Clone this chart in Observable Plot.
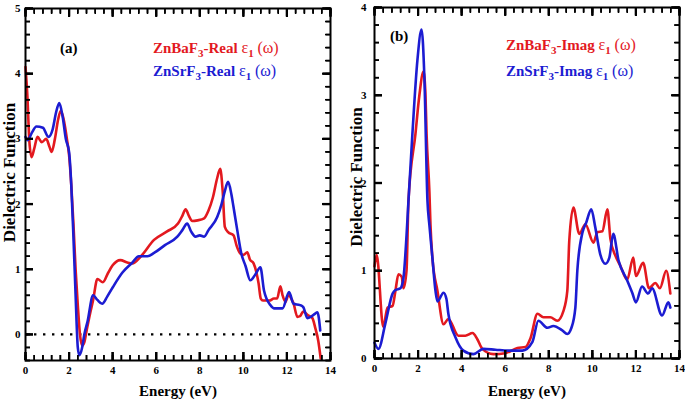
<!DOCTYPE html>
<html><head><meta charset="utf-8">
<script src="https://cdn.jsdelivr.net/npm/d3@7"></script>
<script src="https://cdn.jsdelivr.net/npm/@observablehq/plot@0.6"></script>
<style>
body{margin:0;background:#fff;font-family:"Liberation Serif","Times New Roman",serif;}
#wrap{position:relative;width:685px;height:400px;}
.lab{position:absolute;white-space:nowrap;font-weight:bold;font-size:15px;line-height:15px;}
.lab sub{font-size:11px;vertical-align:-4px;line-height:0;}
.g{font-weight:normal;font-size:16px;}
</style></head><body><div id="wrap"></div>
<script>
// ---- Panel (a): real part ----
const realBaE = [0,0.08,0.18,0.28,0.4,0.55,0.75,0.95,1.1,1.2,1.35,1.5,1.62,1.75,1.9,2.0,2.1,2.2,2.3,2.4,2.5,2.6,2.7,2.8,2.95,3.1,3.3,3.55,3.8,4.0,4.35,4.7,4.9,5.3,5.9,6.5,7.0,7.2,7.35,7.5,7.65,7.9,8.2,8.4,8.6,8.8,8.94,9.05,9.15,9.3,9.55,9.7,9.86,10.0,10.18,10.3,10.47,10.6,10.7,10.8,10.9,11.2,11.4,11.55,11.7,11.8,11.93,12.07,12.2,12.3,12.48,12.6,12.75,12.94,13.17,13.3,13.44,13.55];
const realBaV = [4.1,3.7,2.95,2.72,2.85,3.03,2.95,3.0,2.88,2.8,3.0,3.3,3.43,3.3,3.0,2.75,2.3,1.7,1.0,0.45,0.0,-0.17,-0.12,0.05,0.3,0.52,0.85,0.8,0.95,1.06,1.14,1.1,1.09,1.2,1.45,1.58,1.7,1.82,1.92,1.82,1.74,1.75,1.78,1.9,2.1,2.4,2.54,2.2,1.65,1.57,1.52,1.35,1.24,1.22,1.26,1.15,1.09,0.95,0.78,0.55,0.52,0.52,0.55,0.55,0.74,0.6,0.5,0.6,0.55,0.48,0.27,0.28,0.35,0.3,0.25,0.1,-0.1,-0.37];
const realSrE = [0,0.1,0.3,0.5,0.8,1.05,1.25,1.4,1.55,1.7,1.85,2.0,2.1,2.2,2.3,2.4,2.47,2.6,2.7,2.85,3.1,3.3,3.52,3.75,4.0,4.45,4.9,5.2,5.6,5.9,6.4,6.97,7.2,7.42,7.6,7.8,8.0,8.2,8.4,8.8,9.0,9.15,9.3,9.45,9.55,9.72,9.9,10.1,10.32,10.55,10.78,10.95,11.24,11.4,11.8,12.1,12.3,12.6,12.75,12.94,13.1,13.3,13.4,13.53];
const realSrV = [3.03,2.98,3.1,3.19,3.17,3.03,3.15,3.4,3.55,3.35,3.0,2.8,2.3,1.5,0.6,-0.2,-0.32,-0.2,0.0,0.2,0.6,0.53,0.47,0.58,0.72,0.95,1.1,1.2,1.2,1.25,1.37,1.5,1.6,1.7,1.58,1.5,1.52,1.5,1.6,1.8,2.0,2.2,2.34,2.15,1.95,1.6,1.25,1.05,0.83,0.92,1.03,0.67,0.45,0.4,0.4,0.65,0.47,0.45,0.42,0.25,0.27,0.32,0.34,0.06];
// ---- Panel (b): imaginary part ----
const imagBaE = [0,0.1,0.4,0.6,0.83,0.96,1.1,1.25,1.33,1.47,1.56,1.88,2.06,2.25,2.34,2.39,2.52,2.57,2.66,2.89,3.17,3.39,3.85,4.17,4.5,4.72,4.95,5.46,6.0,6.56,6.93,7.16,7.48,7.75,8.07,8.39,8.67,8.85,8.94,9.13,9.4,9.68,10.05,10.23,10.46,10.69,10.83,11.06,11.28,11.6,11.88,12.0,12.33,12.6,12.89,13.1,13.39,13.58];
const imagBaV = [1.05,1.18,0.36,0.58,0.6,0.77,0.96,0.93,0.8,1.0,1.8,2.56,3.0,3.27,3.0,2.56,1.9,1.52,1.14,0.77,0.39,0.45,0.26,0.26,0.29,0.22,0.11,0.05,0.06,0.12,0.13,0.23,0.51,0.47,0.47,0.43,0.54,0.77,1.34,1.72,1.42,1.53,1.32,1.44,1.45,1.7,1.36,1.17,1.06,0.9,1.15,0.94,1.09,0.8,0.86,0.8,1.0,0.74];
const imagSrE = [0,0.18,0.5,0.83,0.96,1.19,1.33,1.47,1.56,1.74,1.97,2.16,2.29,2.43,2.52,2.66,2.8,2.89,3.17,3.3,3.39,3.72,4.08,4.54,5.0,5.55,6.15,6.79,7.25,7.52,7.94,8.21,8.62,8.85,9.04,9.22,9.31,9.54,9.72,9.95,10.13,10.36,10.6,10.78,10.96,11.2,11.6,11.83,12.0,12.28,12.56,12.74,13.2,13.49,13.58];
const imagSrV = [0.18,0.11,0.4,0.74,0.78,0.8,0.92,1.4,1.8,2.56,3.4,3.75,3.2,1.8,1.52,1.14,0.77,0.65,0.75,0.68,0.51,0.24,0.09,0.05,0.11,0.1,0.09,0.09,0.19,0.43,0.35,0.37,0.32,0.28,0.35,0.58,1.0,1.43,1.55,1.7,1.5,1.19,1.08,1.15,1.42,1.12,0.89,0.75,0.64,0.82,0.74,0.8,0.49,0.64,0.58];

const xMajor = [0,2,4,6,8,10,12,14];
const yMajorA = [0,1,2,3,4,5];
const yMajorB = [0,1,2,3,4];
const seriesNames = ["ZnBaF3","ZnSrF3"];
const RED = "#e3191f", BLUE = "#1c1cd2";
const FONT = "Liberation Serif";

const rows = (E, V) => E.map((e, i) => ({e, v: V[i]}));
const step = (a, b, s) => d3.range(Math.round((b - a) / s) + 1).map(i => +(a + i * s).toFixed(2));

function panel(o) {
  const xd = [0, 14];
  const xMinor = step(0, 14, 0.4);
  const yMinor = step(o.yd[0], o.yd[1], 0.2);
  const iw = o.w - o.ml - o.mr, ih = 400 - o.mt - o.mb;
  const fmt = d => String(d);
  const txt = {fontFamily: FONT, fontWeight: "bold", fill: "black"};
  const tickMarks = (len, sw, xs, ys) => [
    Plot.tickX(xs, {x: d => d, stroke: "black", strokeWidth: sw, insetTop: ih - len}),
    Plot.tickX(xs, {x: d => d, stroke: "black", strokeWidth: sw, insetBottom: ih - len}),
    Plot.tickY(ys, {y: d => d, stroke: "black", strokeWidth: sw, insetRight: iw - len}),
    Plot.tickY(ys, {y: d => d, stroke: "black", strokeWidth: sw, insetLeft: iw - len}),
    Plot.axisX(xs, {anchor: "bottom", tickSize: -len, stroke: "black", strokeWidth: sw, tickFormat: () => "", label: null}),
    Plot.axisX(xs, {anchor: "top", tickSize: -len, stroke: "black", strokeWidth: sw, tickFormat: () => "", label: null}),
    Plot.axisY(ys, {anchor: "left", tickSize: -len, stroke: "black", strokeWidth: sw, tickFormat: () => "", label: null}),
    Plot.axisY(ys, {anchor: "right", tickSize: -len, stroke: "black", strokeWidth: sw, tickFormat: () => "", label: null})
  ];
  return Plot.plot({
    width: o.w, height: 400,
    marginLeft: o.ml, marginRight: o.mr, marginTop: o.mt, marginBottom: o.mb,
    x: {domain: xd},
    y: {domain: o.yd},
    marks: [
      ...(o.zero ? [Plot.ruleY([0], {stroke: "black", strokeDasharray: "2.4,6.6", strokeWidth: 2.2})] : []),
      Plot.line(rows(o.ba[0], o.ba[1]), {x: "e", y: "v", stroke: RED, strokeWidth: 2.6, curve: "monotone-x"}),
      Plot.line(rows(o.sr[0], o.sr[1]), {x: "e", y: "v", stroke: BLUE, strokeWidth: 2.6, curve: "monotone-x"}),
      Plot.frame({strokeWidth: 2, stroke: "black"}),
      ...tickMarks(5, 1.6, xMinor, yMinor),
      ...tickMarks(8, 2.2, xMajor, o.yMajor),
      Plot.axisX(xMajor, {anchor: "bottom", tickSize: 0, tickPadding: 6, tickFormat: fmt, label: null, fontSize: 11, ...txt}),
      Plot.axisY(o.yMajor, {anchor: "left", tickSize: 0, tickPadding: o.ytp, tickFormat: fmt, label: null, fontSize: 11, ...txt}),
      Plot.text(["Energy (eV)"], {frameAnchor: "bottom", lineAnchor: "middle", textAnchor: "middle", dy: o.xdy, fontSize: 15, ...txt}),
      Plot.text(["Dielectric Function"], {frameAnchor: "left", lineAnchor: "middle", textAnchor: "middle", dx: o.ydx, dy: o.ydy, rotate: -90, fontSize: 17, ...txt})
    ]
  });
}

const wrap = document.getElementById("wrap");
const svgA = panel({w: 342, ml: 25, mr: 12, mt: 8, mb: 40, yd: [-0.4, 5], yMajor: yMajorA, ytp: 5, zero: true,
  ba: [realBaE, realBaV], sr: [realSrE, realSrV], xdy: 31, ydx: -16, ydy: -12});
const svgB = panel({w: 343, ml: 32, mr: 6, mt: 7, mb: 42, yd: [0, 4], yMajor: yMajorB, ytp: 8, zero: false,
  ba: [imagBaE, imagBaV], sr: [imagSrE, imagSrV], xdy: 33, ydx: -18, ydy: -6});
svgA.style.position = "absolute"; svgA.style.left = "0px"; svgA.style.top = "0px";
svgB.style.position = "absolute"; svgB.style.left = "342px"; svgB.style.top = "0px";
wrap.appendChild(svgA);
wrap.appendChild(svgB);

function label(html, left, top, color) {
  const d = document.createElement("div");
  d.className = "lab";
  d.style.left = left + "px";
  d.style.top = top + "px";
  d.style.color = color;
  d.innerHTML = html;
  wrap.appendChild(d);
}
const tag = (name, part) => name.replace("3", "<sub>3</sub>") + "-" + part + ' <span class="g">&epsilon;</span><sub>1</sub> <span class="g">(&omega;)</span>';
label("(a)", 60, 41, "#000");
label(tag(seriesNames[0], "Real"), 153, 40, RED);
label(tag(seriesNames[1], "Real"), 153, 63, BLUE);
label("(b)", 390, 29, "#000");
label(tag(seriesNames[0], "Imag"), 506, 37, RED);
label(tag(seriesNames[1], "Imag"), 506, 63, BLUE);
</script></body></html>
